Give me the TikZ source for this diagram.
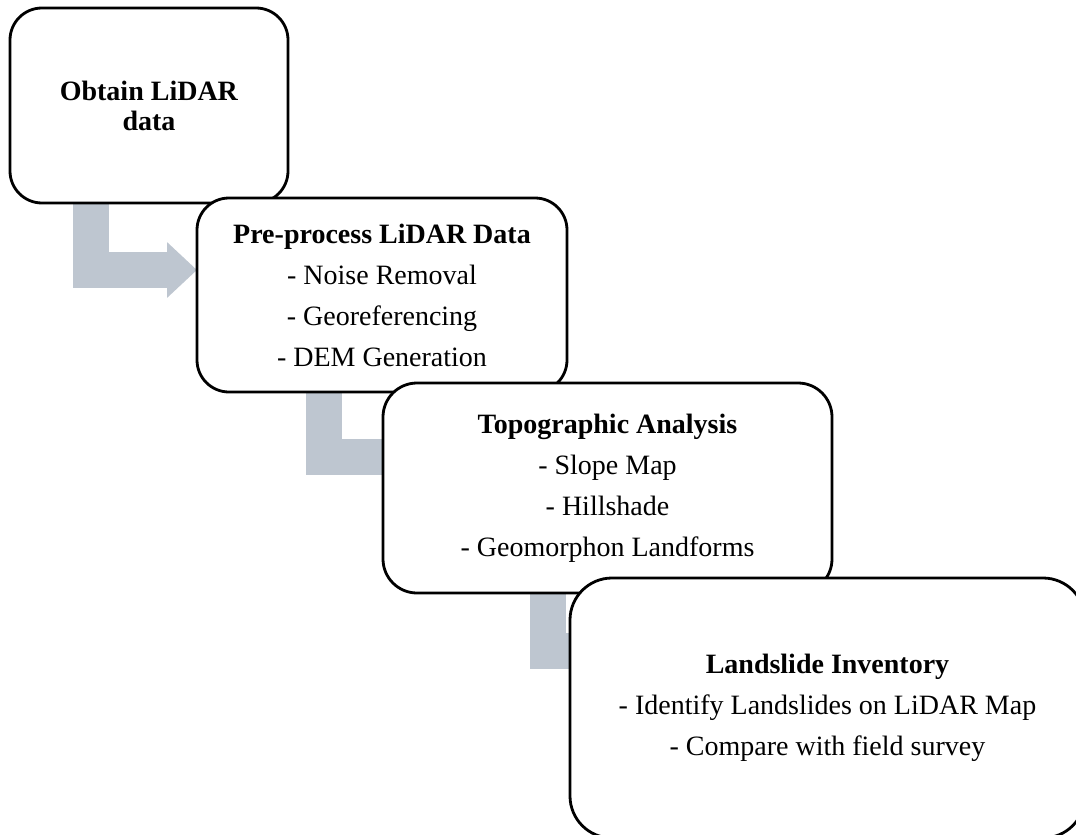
\documentclass[tikz,border=0pt]{standalone}
\usepackage{fontspec}
\setmainfont{Liberation Serif}
\usepackage{tikz}
\usetikzlibrary{arrows.meta,positioning,backgrounds}
\definecolor{cFlow}{RGB}{190,198,208}
\tikzset{
  stage/.style={draw=black, fill=white, line width=2.8pt, rounded corners=32pt,
                inner sep=0pt, outer sep=0pt, align=center,
                font=\fontsize{28}{41}\selectfont},
  flow/.style={draw=cFlow, line width=36pt, line join=miter,
               -{Triangle[length=30pt, width=54pt]}},
}

\begin{document}
\begin{tikzpicture}[x=1pt, y=-1pt]
  \useasboundingbox (0,0) rectangle (1076,835);
  \clip (0,0) rectangle (1076,835);

  % stages
  \node[stage, anchor=north west, minimum width=278pt, minimum height=195pt,
        font=\fontsize{28}{30}\selectfont] (b1) at (10,8)
        {\textbf{Obtain LiDAR}\\\textbf{data}};
  \node[stage, below right=-5pt and -91pt of b1, minimum width=370pt, minimum height=194pt] (b2)
        {\textbf{Pre-process LiDAR Data}\\- Noise Removal\\- Georeferencing\\- DEM Generation};
  \node[stage, below right=-9pt and -184pt of b2, minimum width=449pt, minimum height=210pt,
        rounded corners=34pt] (b3)
        {\textbf{Topographic Analysis}\\- Slope Map\\- Hillshade\\- Geomorphon Landforms};
  \node[stage, below right=-15pt and -262pt of b3, minimum width=515pt, minimum height=260pt,
        rounded corners=42pt] (b4)
        {\textbf{Landslide Inventory}\\- Identify Landslides on LiDAR Map\\- Compare with field survey};

  % elbow arrows behind the stages
  \begin{scope}[on background layer]
    \draw[flow] ([xshift=81pt]b1.south west) |- ([yshift=25pt]b2.west);
    \draw[flow] ([xshift=127pt]b2.south west) |- ([xshift=30pt, yshift=31pt]b3.west);
    \draw[flow] ([xshift=165pt]b3.south west) |- ([xshift=30pt, yshift=57pt]b4.west);
  \end{scope}
\end{tikzpicture}
\end{document}
